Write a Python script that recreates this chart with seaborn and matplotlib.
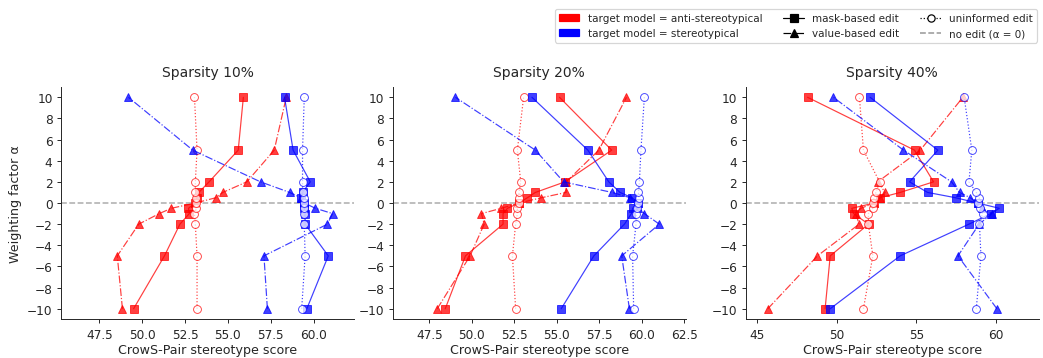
import matplotlib
matplotlib.use("Agg")
import matplotlib.pyplot as plt
from matplotlib.lines import Line2D
from matplotlib.patches import Patch
from matplotlib.ticker import MultipleLocator
import numpy as np
import pandas as pd
import seaborn as sns

# Weighting factors applied to the edit
alpha = [-10, -5, -2, -1, -0.5, 0, 0.5, 1, 2, 5, 10]

sparsity_titles = ["Sparsity 10%", "Sparsity 20%", "Sparsity 40%"]

# CrowS-Pair stereotype scores, sparsity 10%
s10_anti_mask = [49.5, 51.3, 52.2, 52.75, 52.7, 53.1, 53.2, 53.3, 53.9, 55.6, 55.9]
s10_anti_value = [48.85, 48.55, 49.8, 51.0, 51.7, 53.1, 54.3, 54.7, 56.1, 57.7, 58.4]
s10_anti_unif = [53.2, 53.2, 53.1, 53.05, 53.15, 53.15, 53.15, 53.1, 53.1, 53.2, 53.05]
s10_ster_mask = [59.6, 60.85, 59.5, 59.5, 59.45, 59.45, 59.25, 59.35, 59.8, 58.8, 58.3]
s10_ster_value = [57.3, 57.1, 60.8, 61.1, 60.1, 59.45, 59.25, 58.6, 56.9, 52.95, 49.2]
s10_ster_unif = [59.3, 59.5, 59.45, 59.45, 59.45, 59.45, 59.45, 59.35, 59.35, 59.35, 59.45]

# sparsity 20%
s20_anti_mask = [48.44, 49.63, 51.84, 51.84, 52.1, 52.78, 53.27, 53.74, 55.48, 58.23, 55.16]
s20_anti_value = [47.97, 49.9, 50.73, 50.57, 51.74, 52.78, 54.1, 55.55, 55.55, 57.47, 59.1]
s20_anti_unif = [52.58, 52.39, 52.58, 52.68, 52.68, 52.75, 52.75, 52.78, 52.88, 52.68, 53.05]
s20_ster_mask = [55.26, 57.18, 58.98, 59.39, 59.46, 59.76, 59.43, 58.72, 58.06, 56.83, 53.54]
s20_ster_value = [59.27, 58.82, 61.03, 60.15, 59.8, 59.76, 59.33, 58.25, 55.4, 53.74, 49.04]
s20_ster_unif = [59.52, 59.46, 59.66, 59.66, 59.72, 59.8, 59.82, 59.8, 59.86, 59.95, 60.15]

# sparsity 40%
s40_anti_mask = [49.28, 49.6, 52.0, 51.06, 50.95, 52.37, 52.73, 53.98, 56.07, 54.88, 48.18]
s40_anti_value = [45.69, 48.8, 51.41, 51.2, 51.52, 52.37, 52.7, 53.04, 52.58, 55.24, 57.91]
s40_anti_unif = [51.68, 52.27, 51.99, 51.99, 52.27, 52.27, 52.35, 52.46, 52.69, 51.68, 51.43]
s40_ster_mask = [49.6, 53.98, 58.29, 59.66, 60.19, 58.83, 57.45, 55.7, 54.57, 56.34, 52.1]
s40_ster_value = [60.04, 57.6, 58.93, 59.73, 59.1, 58.83, 58.37, 57.7, 57.2, 54.19, 49.8]
s40_ster_unif = [58.75, 59.04, 58.95, 59.14, 58.98, 58.83, 58.95, 58.75, 58.29, 58.47, 57.99]

panels = [
    {"anti": (s10_anti_mask, s10_anti_value, s10_anti_unif),
     "ster": (s10_ster_mask, s10_ster_value, s10_ster_unif)},
    {"anti": (s20_anti_mask, s20_anti_value, s20_anti_unif),
     "ster": (s20_ster_mask, s20_ster_value, s20_ster_unif)},
    {"anti": (s40_anti_mask, s40_anti_value, s40_anti_unif),
     "ster": (s40_ster_mask, s40_ster_value, s40_ster_unif)},
]

target_colors = {"anti": "#ff0000", "ster": "#0000ff"}
edit_styles = [
    dict(linestyle="-", marker="s"),
    dict(linestyle="-.", marker="^"),
    dict(linestyle=":", marker="o", markerfacecolor="white"),
]

x_limits = [(45.27, 62.35), (45.35, 62.6), (44.31, 62.65)]
x_steps = [2.5, 2.5, 5]
axes_boxes = [
    (0.0585, 0.1078, 0.2809, 0.6479),
    (0.3765, 0.1078, 0.2812, 0.6479),
    (0.7150, 0.1078, 0.2807, 0.6479),
]

sns.set_style("ticks")
plt.rcParams["font.family"] = ["DejaVu Sans"]

fig = plt.figure(figsize=(12, 4.13), dpi=86.92)

for i, (panel, title) in enumerate(zip(panels, sparsity_titles)):
    ax = fig.add_axes(axes_boxes[i])
    ax.axhline(0, color="#9a9a9a", linestyle="--", linewidth=1.3, alpha=0.8, zorder=0)
    for target in ["anti", "ster"]:
        color = target_colors[target]
        for values, style in zip(panel[target], edit_styles):
            df = pd.DataFrame({"score": values, "alpha": alpha})
            sns.lineplot(data=df, x="score", y="alpha", orient="y",
                         estimator=None, color=color, linewidth=1,
                         markersize=6.5, markeredgecolor=color, alpha=0.75,
                         ax=ax, **style)
    ax.set_xlim(*x_limits[i])
    ax.set_ylim(-11, 11)
    ax.xaxis.set_major_locator(MultipleLocator(x_steps[i]))
    ax.yaxis.set_major_locator(MultipleLocator(2))
    ax.set_title(title, fontsize=11.5, pad=8.5)
    ax.set_xlabel("CrowS-Pair stereotype score", fontsize=10.5, labelpad=1.5)
    ax.set_ylabel("Weighting factor α" if i == 0 else "", fontsize=10.5)
    sns.despine(ax=ax)

handles = [
    Patch(color="#ff0000", label="target model = anti-stereotypical"),
    Patch(color="#0000ff", label="target model = stereotypical"),
    Line2D([], [], color="black", linestyle="-", marker="s", markersize=6,
           linewidth=1, label="mask-based edit"),
    Line2D([], [], color="black", linestyle="-.", marker="^", markersize=6,
           linewidth=1, label="value-based edit"),
    Line2D([], [], color="black", linestyle=":", marker="o", markersize=6,
           markerfacecolor="white", linewidth=1, label="uninformed edit"),
    Line2D([], [], color="#9a9a9a", linestyle="--", linewidth=1.3,
           label="no edit (α = 0)"),
]
fig.legend(handles=handles, loc="upper right", bbox_to_anchor=(0.9943, 0.972),
           ncol=3, fontsize=8.6, borderaxespad=0, frameon=True)

fig.savefig("out.png", dpi=86.92)
